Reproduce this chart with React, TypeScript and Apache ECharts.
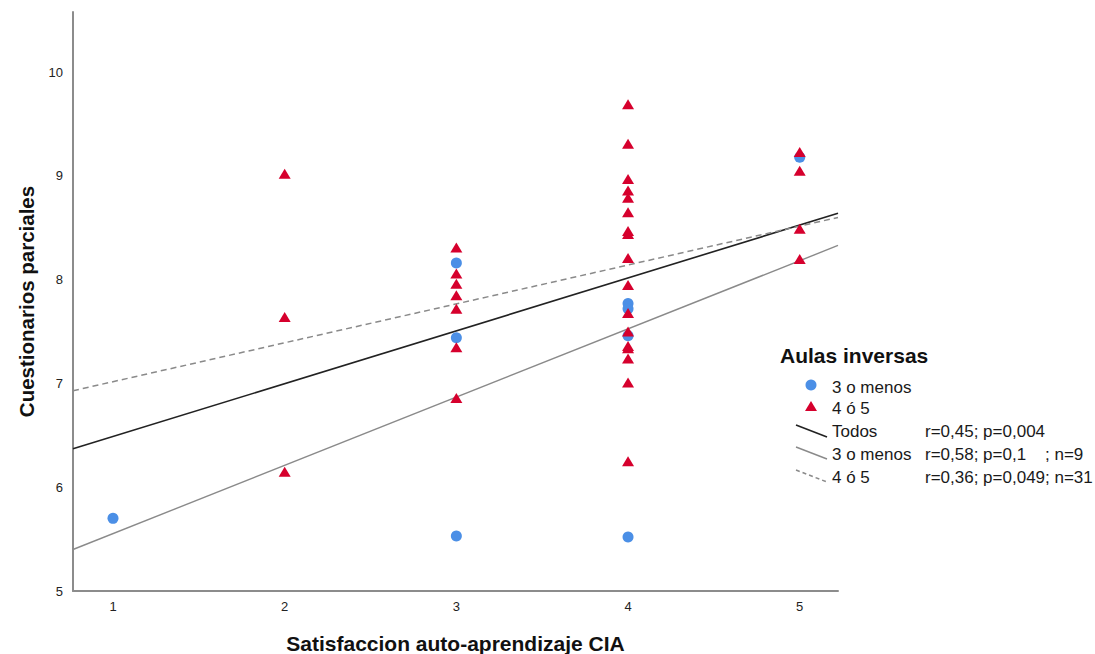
import React, { useEffect, useRef } from "react";
import * as echarts from "echarts";

// Axis extents
const xRange = [0.767, 5.223];
const yRange = [5, 10.58];

// Group "3 o menos" (blue circles)
const menosX = [1, 3, 3, 3, 4, 4, 4, 4, 5];
const menosY = [5.7, 8.16, 7.44, 5.53, 7.77, 7.72, 7.46, 5.52, 9.18];

// Group "4 ó 5" (red triangles)
const cincoX = [
  2, 2, 2,
  3, 3, 3, 3, 3, 3, 3,
  4, 4, 4, 4, 4, 4, 4, 4, 4, 4, 4, 4, 4, 4, 4, 4, 4,
  5, 5, 5, 5,
];
const cincoY = [
  9.02, 7.64, 6.15,
  8.31, 8.06, 7.96, 7.85, 7.72, 7.35, 6.86,
  9.69, 9.31, 8.97, 8.86, 8.79, 8.65, 8.47, 8.44, 8.21, 7.95, 7.68, 7.5, 7.36, 7.34, 7.24, 7.01, 6.25,
  9.23, 9.05, 8.49, 8.2,
];

// Fit lines: values at the left and right ends of the x axis
const todosFit = [6.37, 8.64];
const menosFit = [5.4, 8.33];
const cincoFit = [6.93, 8.6];

// Legend texts
const legendTitle = "Aulas inversas";
const legendLabels = ["3 o menos", "4 ó 5", "Todos", "3 o menos", "4 ó 5"];
const legendStats = ["r=0,45; p=0,004", "r=0,58; p=0,1    ; n=9", "r=0,36; p=0,049; n=31"];

const xTitle = "Satisfaccion auto-aprendizaje CIA";
const yTitle = "Cuestionarios parciales";

const BLUE = "#4B8FE6";
const RED = "#D6002D";
const FONT = "Liberation Sans, Arial, sans-serif";

export default function App() {
  const ref = useRef<HTMLDivElement>(null);
  useEffect(() => {
    if (!ref.current) return;
    const chart = echarts.init(ref.current, undefined, { renderer: "svg" });
    const pts = (xs: number[], ys: number[]) => xs.map((x, i) => [x, ys[i]]);
    const fit = (v: number[]) => [
      [xRange[0], v[0]],
      [xRange[1], v[1]],
    ];
    const textStyle = (x: number, y: number, text: string, extra: any = {}) => ({
      type: "text",
      x,
      y,
      style: {
        text,
        fontFamily: FONT,
        fontSize: 17,
        fill: "#1a1a1a",
        verticalAlign: "middle",
        align: "left",
        ...extra,
      },
    });
    const option: any = {
      animation: false,
      backgroundColor: "#ffffff",
      textStyle: { fontFamily: FONT },
      grid: { left: 73, right: 257, top: 12, bottom: 63, containLabel: false, outerBoundsMode: "none" },
      xAxis: {
        type: "value",
        min: xRange[0],
        max: xRange[1],
        splitNumber: 5,
        name: xTitle,
        nameLocation: "middle",
        nameGap: 42,
        nameTextStyle: { fontFamily: FONT, fontSize: 21, fontWeight: "bold", color: "#111" },
        axisLine: { show: true, lineStyle: { color: "#8c8c8c", width: 2 } },
        axisTick: { show: false },
        splitLine: { show: false },
        axisLabel: {
          margin: 9,
          fontFamily: FONT,
          fontSize: 13,
          color: "#222",
          showMinLabel: false,
          showMaxLabel: false,
          formatter: (v: number) => (Math.abs(v - Math.round(v)) < 1e-6 ? String(Math.round(v)) : ""),
        },
      },
      yAxis: {
        type: "value",
        min: yRange[0],
        max: yRange[1],
        interval: 1,
        name: yTitle,
        nameLocation: "middle",
        nameGap: 36,
        nameRotate: 90,
        nameTextStyle: { fontFamily: FONT, fontSize: 20.5, fontWeight: "bold", color: "#111" },
        axisLine: { show: true, lineStyle: { color: "#8c8c8c", width: 2 } },
        axisTick: { show: false },
        splitLine: { show: false },
        axisLabel: {
          margin: 10,
          fontFamily: FONT,
          fontSize: 13,
          color: "#222",
          showMaxLabel: false,
          formatter: (v: number) => (Math.abs(v - Math.round(v)) < 1e-6 ? String(Math.round(v)) : ""),
        },
      },
      series: [
        {
          name: "Todos",
          type: "line",
          data: fit(todosFit),
          showSymbol: false,
          lineStyle: { color: "#222", width: 1.6 },
          z: 2,
        },
        {
          name: "3 o menos fit",
          type: "line",
          data: fit(menosFit),
          showSymbol: false,
          lineStyle: { color: "#8a8a8a", width: 1.4 },
          z: 2,
        },
        {
          name: "4 ó 5 fit",
          type: "line",
          data: fit(cincoFit),
          showSymbol: false,
          lineStyle: { color: "#8a8a8a", width: 1.5, type: [6, 4] },
          z: 2,
        },
        {
          name: "3 o menos",
          type: "scatter",
          data: pts(menosX, menosY),
          symbol: "circle",
          symbolSize: 11,
          itemStyle: { color: BLUE, opacity: 1 },
          z: 3,
        },
        {
          name: "4 ó 5",
          type: "scatter",
          data: pts(cincoX, cincoY),
          symbol: "triangle",
          symbolSize: [12, 10],
          itemStyle: { color: RED, opacity: 1 },
          z: 4,
        },
      ],
      graphic: [
        textStyle(780, 355, legendTitle, { fontSize: 21, fontWeight: "bold", fill: "#111" }),
        { type: "circle", shape: { cx: 811, cy: 385, r: 5.5 }, style: { fill: BLUE } },
        textStyle(832, 387, legendLabels[0]),
        {
          type: "polygon",
          shape: { points: [[805, 411], [817, 411], [811, 401]] },
          style: { fill: RED },
        },
        textStyle(832, 408, legendLabels[1]),
        { type: "line", shape: { x1: 796, y1: 425, x2: 827, y2: 437 }, style: { stroke: "#222", lineWidth: 1.6 } },
        textStyle(832, 431, legendLabels[2]),
        textStyle(925, 431, legendStats[0]),
        { type: "line", shape: { x1: 796, y1: 447, x2: 827, y2: 459 }, style: { stroke: "#8a8a8a", lineWidth: 1.4 } },
        textStyle(832, 454, legendLabels[3]),
        textStyle(925, 454, legendStats[1]),
        {
          type: "line",
          shape: { x1: 796, y1: 470, x2: 827, y2: 482 },
          style: { stroke: "#8a8a8a", lineWidth: 1.5, lineDash: [4, 3] },
        },
        textStyle(832, 477, legendLabels[4]),
        textStyle(925, 477, legendStats[2]),
      ],
    };
    chart.setOption(option);
    return () => chart.dispose();
  }, []);
  return (
    <div
      ref={ref}
      style={{ position: "fixed", left: 0, top: 0, width: 1095, height: 654, background: "#fff" }}
    />
  );
}
